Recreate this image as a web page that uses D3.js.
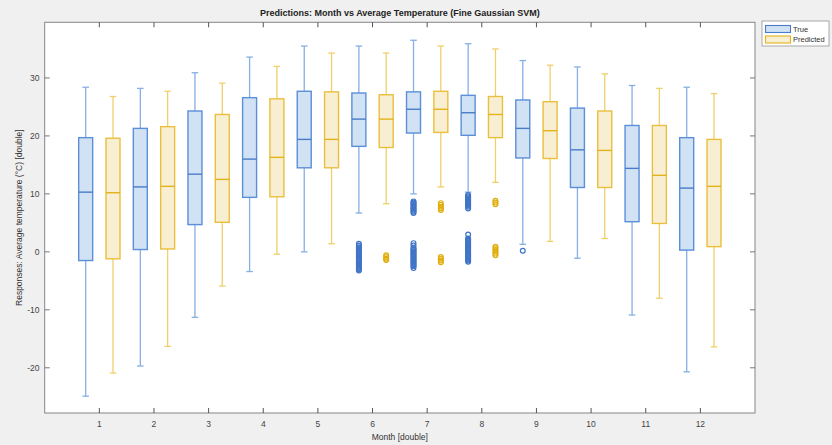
<!DOCTYPE html>
<html>
<head>
<meta charset="utf-8">
<script src="https://cdn.jsdelivr.net/npm/d3@7"></script>
<style>
  body { margin: 0; background: #f0f0f0; }
  svg { display: block; font-family: "Liberation Sans", Arial, sans-serif; }
</style>
</head>
<body>
<svg width="832" height="445"></svg>
<script>
// box stats per month: [whiskerLow, q1, median, q3, whiskerHigh]
const months = [1, 2, 3, 4, 5, 6, 7, 8, 9, 10, 11, 12];
const trueStats = [
  [-24.9, -1.5, 10.3, 19.7, 28.4],
  [-19.7, 0.4, 11.2, 21.3, 28.2],
  [-11.3, 4.7, 13.4, 24.3, 30.9],
  [-3.4, 9.4, 16.0, 26.6, 33.6],
  [0.0, 14.5, 19.4, 27.7, 35.5],
  [6.7, 18.2, 22.9, 27.4, 35.5],
  [10.0, 20.5, 24.6, 27.6, 36.5],
  [10.3, 20.1, 24.0, 27.0, 35.9],
  [1.3, 16.2, 21.3, 26.2, 33.0],
  [-1.1, 11.1, 17.6, 24.8, 31.9],
  [-10.9, 5.2, 14.4, 21.8, 28.7],
  [-20.7, 0.3, 11.0, 19.7, 28.4]
];
const predStats = [
  [-20.9, -1.2, 10.2, 19.6, 26.8],
  [-16.3, 0.5, 11.3, 21.6, 27.7],
  [-5.9, 5.1, 12.5, 23.7, 29.1],
  [-0.4, 9.5, 16.3, 26.4, 32.0],
  [1.4, 14.5, 19.4, 27.6, 34.3],
  [8.3, 18.0, 22.9, 27.1, 34.3],
  [11.2, 20.6, 24.6, 27.7, 35.5],
  [12.0, 19.7, 23.7, 26.8, 35.0],
  [1.8, 16.1, 20.9, 25.9, 32.2],
  [2.3, 11.1, 17.5, 24.3, 30.7],
  [-8.0, 4.9, 13.2, 21.8, 28.2],
  [-16.4, 0.9, 11.3, 19.4, 27.3]
];
// outliers: [month, value]
const trueOutliers = [
  [6, 1.4], [6, 1.1], [6, 0.8], [6, 0.6], [6, 0.4], [6, 0.2], [6, 0.0], [6, -0.2], [6, -0.4], [6, -0.6],
  [6, -0.8], [6, -1.0], [6, -1.2], [6, -1.4], [6, -1.6], [6, -1.8], [6, -2.0], [6, -2.2], [6, -2.4],
  [6, -2.6], [6, -2.8], [6, -3.0], [6, -3.2],
  [7, 8.7], [7, 8.5], [7, 8.3], [7, 8.1], [7, 7.9], [7, 7.7], [7, 7.5], [7, 7.3], [7, 7.1], [7, 6.9], [7, 6.7],
  [7, 1.5], [7, 1.1], [7, 0.7], [7, 0.5], [7, 0.3], [7, 0.1], [7, -0.1], [7, -0.3], [7, -0.5], [7, -0.7],
  [7, -0.9], [7, -1.1], [7, -1.3], [7, -1.5], [7, -1.7], [7, -1.9], [7, -2.1], [7, -2.3], [7, -2.5], [7, -2.8],
  [8, 9.8], [8, 9.6], [8, 9.4], [8, 9.2], [8, 9.0], [8, 8.8], [8, 8.6], [8, 8.4], [8, 8.2], [8, 8.0], [8, 7.8], [8, 7.5],
  [8, 3.0], [8, 2.3], [8, 2.1], [8, 1.9], [8, 1.7], [8, 1.5], [8, 1.3], [8, 1.1], [8, 0.9], [8, 0.7], [8, 0.5],
  [8, 0.3], [8, 0.1], [8, -0.1], [8, -0.3], [8, -0.5], [8, -0.7], [8, -0.9], [8, -1.1], [8, -1.3], [8, -1.5], [8, -1.7],
  [9, 0.2]
];
const predOutliers = [
  [6, -0.6], [6, -0.9], [6, -1.2], [6, -1.4],
  [7, 8.4], [7, 8.1], [7, 7.8], [7, 7.5], [7, 7.2],
  [7, -0.9], [7, -1.2], [7, -1.5], [7, -1.8],
  [8, 8.8], [8, 8.5], [8, 8.2],
  [8, 0.9], [8, 0.6], [8, 0.3], [8, 0.0], [8, -0.3], [8, -0.6]
];
const yTicks = [-20, -10, 0, 10, 20, 30];

const svg = d3.select("svg");
const pLeft = 44.7, pRight = 755, pTop = 22.3, pBottom = 413;

const x = d3.scaleLinear().domain([0, 13]).range([pLeft, pRight]);
const y = d3.scaleLinear().domain([-27.8, 39.6]).range([pBottom, pTop]);

const series = [
  {name: "True", stats: trueStats, outliers: trueOutliers, off: -0.25,
   fill: "#d0e2f3", edge: "#5b8fd8", median: "#4a7cc9", whisker: "#86afe4", dot: "#3f74c6"},
  {name: "Predicted", stats: predStats, outliers: predOutliers, off: 0.25,
   fill: "#f8efd3", edge: "#eabf3c", median: "#e2b31a", whisker: "#f0cf6c", dot: "#dfae0c"}
];

// plot area
svg.append("rect")
  .attr("x", pLeft).attr("y", pTop)
  .attr("width", pRight - pLeft).attr("height", pBottom - pTop)
  .attr("fill", "#fff");

const half = 0.128, cap = 0.06;

series.forEach(function (s) {
  let g = svg.append("g");
  s.stats.forEach(function (d, i) {
    let cx = months[i] + s.off;
    // whiskers
    g.append("line")
      .attr("x1", x(cx)).attr("x2", x(cx))
      .attr("y1", y(d[0])).attr("y2", y(d[1]))
      .attr("stroke", s.whisker).attr("stroke-width", 1.3);
    g.append("line")
      .attr("x1", x(cx)).attr("x2", x(cx))
      .attr("y1", y(d[3])).attr("y2", y(d[4]))
      .attr("stroke", s.whisker).attr("stroke-width", 1.3);
    [d[0], d[4]].forEach(function (v) {
      g.append("line")
        .attr("x1", x(cx - cap)).attr("x2", x(cx + cap))
        .attr("y1", y(v)).attr("y2", y(v))
        .attr("stroke", s.whisker).attr("stroke-width", 1.3);
    });
    // box
    g.append("rect")
      .attr("x", x(cx - half)).attr("y", y(d[3]))
      .attr("width", x(cx + half) - x(cx - half))
      .attr("height", y(d[1]) - y(d[3]))
      .attr("fill", s.fill).attr("stroke", s.edge).attr("stroke-width", 1.4);
    g.append("line")
      .attr("x1", x(cx - half)).attr("x2", x(cx + half))
      .attr("y1", y(d[2])).attr("y2", y(d[2]))
      .attr("stroke", s.median).attr("stroke-width", 1.4);
  });
  g.selectAll(".out")
    .data(s.outliers)
    .enter()
    .append("circle")
    .attr("class", "out")
    .attr("cx", function (d) { return x(d[0] + s.off); })
    .attr("cy", function (d) { return y(d[1]); })
    .attr("r", 2.4)
    .attr("fill", "none")
    .attr("stroke", s.dot)
    .attr("stroke-width", 1.2);
});

// axes box and ticks (inward, on all sides)
const axisColor = "#858585";
svg.append("rect")
  .attr("x", pLeft).attr("y", pTop)
  .attr("width", pRight - pLeft).attr("height", pBottom - pTop)
  .attr("fill", "none").attr("stroke", axisColor).attr("stroke-width", 1);

const tickLen = 5;
months.forEach(function (m) {
  svg.append("line").attr("x1", x(m)).attr("x2", x(m))
    .attr("y1", pBottom).attr("y2", pBottom - tickLen).attr("stroke", "#555");
  svg.append("line").attr("x1", x(m)).attr("x2", x(m))
    .attr("y1", pTop).attr("y2", pTop + tickLen).attr("stroke", "#555");
  svg.append("text").attr("x", x(m)).attr("y", 427)
    .attr("text-anchor", "middle").attr("font-size", 8.5).attr("fill", "#444")
    .text(m);
});
yTicks.forEach(function (t) {
  svg.append("line").attr("x1", pLeft).attr("x2", pLeft + tickLen)
    .attr("y1", y(t)).attr("y2", y(t)).attr("stroke", "#777");
  svg.append("line").attr("x1", pRight).attr("x2", pRight - tickLen)
    .attr("y1", y(t)).attr("y2", y(t)).attr("stroke", "#777");
  svg.append("text").attr("x", 39.5).attr("y", y(t) + 3)
    .attr("text-anchor", "end").attr("font-size", 8.5).attr("fill", "#444")
    .text(t);
});

// labels
svg.append("text")
  .attr("x", (pLeft + pRight) / 2).attr("y", 16)
  .attr("text-anchor", "middle").attr("font-size", 9).attr("font-weight", "bold")
  .attr("fill", "#222")
  .text("Predictions: Month vs Average Temperature (Fine Gaussian SVM)");
svg.append("text")
  .attr("x", (pLeft + pRight) / 2).attr("y", 440)
  .attr("text-anchor", "middle").attr("font-size", 8.5).attr("fill", "#333")
  .text("Month [double]");
svg.append("text")
  .attr("transform", "translate(22," + ((pTop + pBottom) / 2) + ") rotate(-90)")
  .attr("text-anchor", "middle").attr("font-size", 8.5).attr("fill", "#333")
  .text("Responses: Average temperature (°C) [double]");

// legend
const lg = svg.append("g");
lg.append("rect")
  .attr("x", 762).attr("y", 21).attr("width", 67).attr("height", 25)
  .attr("fill", "#fff").attr("stroke", "#a8a8a8");
series.forEach(function (s, i) {
  let yy = 25.5 + i * 10.5;
  lg.append("rect")
    .attr("x", 765.5).attr("y", yy).attr("width", 25).attr("height", 7)
    .attr("fill", s.fill).attr("stroke", s.median).attr("stroke-width", 1.1);
  lg.append("text")
    .attr("x", 793).attr("y", yy + 6.3)
    .attr("font-size", 7.5).attr("fill", "#333")
    .text(s.name);
});
</script>
</body>
</html>
